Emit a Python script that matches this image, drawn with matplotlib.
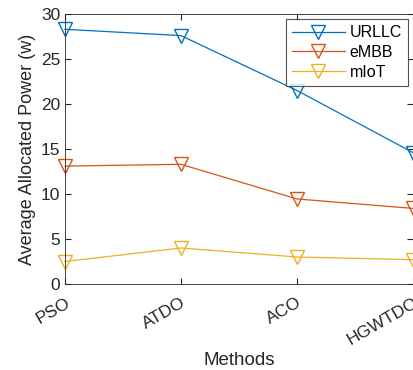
import numpy as np
import matplotlib.pyplot as plt

plt.rcParams['font.family'] = ['Liberation Sans', 'DejaVu Sans']

methods = ['PSO', 'ATDO', 'ACO', 'HGWTDO']
urllc   = [28.3, 27.6, 21.5, 14.6]
embb    = [13.1, 13.3, 9.45, 8.4]
miot    = [2.5, 4.0, 3.0, 2.7]

x = np.arange(1, len(methods) + 1)

fig = plt.figure(figsize=(4.14, 3.70), dpi=100)
ax  = fig.add_axes([65/414, 1 - 284/370, (413 - 65)/414, (284 - 14)/370])

ax.plot(x, urllc, marker='v', ms=10, mfc='none', c='#0072BD', lw=0.9, label='URLLC', clip_on=False)
ax.plot(x, embb,  marker='v', ms=10, mfc='none', c='#D95319', lw=0.9, label='eMBB',  clip_on=False)
ax.plot(x, miot,  marker='v', ms=10, mfc='none', c='#EDB120', lw=0.9, label='mIoT',  clip_on=False)

ax.set_xlim(1, 4)
ax.set_ylim(0, 30)
ax.set_xticks(x)
ax.set_xticklabels(methods, rotation=30, ha='right', va='top', rotation_mode='anchor', fontsize=12.5)
ax.set_yticks([0, 5, 10, 15, 20, 25, 30])
ax.tick_params(direction='in', top=True, right=True, length=4, labelsize=12.5, colors='#262626')
ax.tick_params(axis='x', pad=8)
for s in ax.spines.values():
    s.set_color('#262626')
    s.set_linewidth(0.6)

ax.set_xlabel('Methods', fontsize=13.5, color='#262626', labelpad=3)
ax.set_ylabel('Average Allocated Power (w)', fontsize=13, color='#262626', labelpad=3)

leg = ax.legend(loc='upper right', fontsize=11.5, handlelength=3.3, handletextpad=0.3, frameon=True,
                fancybox=False, edgecolor='#262626', borderaxespad=0.3, labelspacing=0.3)
leg.get_frame().set_linewidth(0.8)

fig.savefig('out.png', dpi=100)
